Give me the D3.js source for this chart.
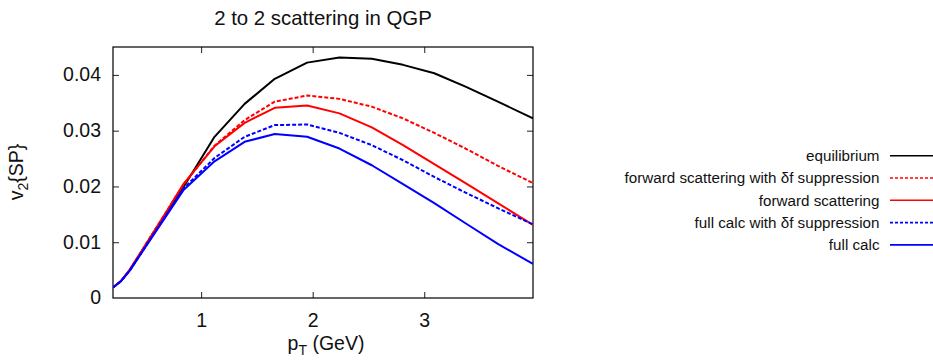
<!DOCTYPE html>
<html>
<head>
<meta charset="utf-8">
<script src="https://cdn.jsdelivr.net/npm/d3@7"></script>
<style>
  html, body { margin: 0; padding: 0; background: #fff; }
  svg { display: block; font-family: "Liberation Sans", Arial, sans-serif; }
</style>
</head>
<body>
<svg id="chart" width="933" height="362"></svg>
<script>
// ---- data ----
const pT = [0.21, 0.28, 0.36, 0.5, 0.68, 0.84, 1.12, 1.39, 1.66, 1.95, 2.24, 2.53, 2.81, 3.09, 3.37, 3.66, 3.975];
const equilibrium = [0.0019, 0.0030, 0.0050, 0.0093, 0.0149, 0.0198, 0.0289, 0.0348, 0.0393, 0.0422, 0.0431, 0.0429, 0.0418, 0.0403, 0.0379, 0.0352, 0.0322];
const forwardDf   = [0.0019, 0.0030, 0.0050, 0.0095, 0.0152, 0.0203, 0.0273, 0.0319, 0.0352, 0.0363, 0.0357, 0.0343, 0.0322, 0.0296, 0.0268, 0.0237, 0.0206];
const forward     = [0.0019, 0.0030, 0.0051, 0.0095, 0.0152, 0.0204, 0.0272, 0.0314, 0.0341, 0.0345, 0.0331, 0.0306, 0.0274, 0.0240, 0.0206, 0.0170, 0.0131];
const fullDf      = [0.0019, 0.0030, 0.0049, 0.0092, 0.0147, 0.0196, 0.0251, 0.0289, 0.0310, 0.0311, 0.0296, 0.0274, 0.0247, 0.0217, 0.0189, 0.0161, 0.0132];
const full        = [0.0019, 0.0030, 0.0049, 0.0091, 0.0145, 0.0193, 0.0245, 0.0280, 0.0294, 0.0289, 0.0268, 0.0238, 0.0204, 0.0170, 0.0134, 0.0097, 0.0061];

const seriesNames = ["equilibrium", "forward scattering with \u03B4f suppression", "forward scattering", "full calc with \u03B4f suppression", "full calc"];
const seriesValues = [equilibrium, forwardDf, forward, fullDf, full];
const seriesColors = ["#000000", "#ff0000", "#ff0000", "#0000ff", "#0000ff"];
const seriesDashed = [false, true, false, true, false];

const xTicks = [1, 2, 3];
const yTicks = [0, 0.01, 0.02, 0.03, 0.04];
const yTickLabels = ["0", "0.01", "0.02", "0.03", "0.04"];
const xDomain = [0.21, 3.975];
const yDomain = [0, 0.045];

// ---- layout ----
const svg = d3.select("#chart");
const L = 113, R = 533, T = 47, B = 298;
const x = d3.scaleLinear().domain(xDomain).range([L, R]);
const y = d3.scaleLinear().domain(yDomain).range([B, T]);
const tickLen = 6;
const fs = 19.5;

// clip
svg.append("defs").append("clipPath").attr("id", "plotclip")
  .append("rect").attr("x", L).attr("y", T).attr("width", R - L).attr("height", B - T);

// axes via d3.axis (inward ticks)
const axB = svg.append("g").attr("transform", `translate(0,${B})`)
  .call(d3.axisBottom(x).tickValues(xTicks).tickSize(-tickLen).tickPadding(0).tickFormat(d3.format("d")));
const axT = svg.append("g").attr("transform", `translate(0,${T})`)
  .call(d3.axisTop(x).tickValues(xTicks).tickSize(-tickLen).tickFormat(""));
const axL = svg.append("g").attr("transform", `translate(${L},0)`)
  .call(d3.axisLeft(y).tickValues(yTicks).tickSize(-tickLen).tickFormat((d, i) => yTickLabels[i]));
const axR = svg.append("g").attr("transform", `translate(${R},0)`)
  .call(d3.axisRight(y).tickValues(yTicks).tickSize(-tickLen).tickFormat(""));

[axB, axT, axL, axR].forEach(g => {
  g.select(".domain").remove();
  g.selectAll(".tick line").attr("stroke", "#222").attr("stroke-width", 1);
});
axB.selectAll(".tick text").attr("font-size", fs).attr("fill", "#111")
  .attr("y", 0).attr("dy", 0).attr("transform", `translate(0,${327 - B})`);
axL.selectAll(".tick text").attr("font-size", fs).attr("fill", "#111")
  .attr("x", -(L - 101)).attr("dy", "0.3em");
// remove ticks exactly at the corners (0 on y)
axL.selectAll(".tick").filter(d => d === 0).select("line").remove();
axR.selectAll(".tick").filter(d => d === 0).remove();

// border
svg.append("rect").attr("x", L).attr("y", T).attr("width", R - L).attr("height", B - T)
  .attr("fill", "none").attr("stroke", "#000").attr("stroke-width", 1.2);

// curves
const line = d3.line().x(d => x(d[0])).y(d => y(d[1]));
const plot = svg.append("g").attr("clip-path", "url(#plotclip)");
seriesValues.forEach((vals, i) => {
  plot.append("path")
    .datum(pT.map((p, j) => [p, vals[j]]))
    .attr("d", line)
    .attr("fill", "none")
    .attr("stroke", seriesColors[i])
    .attr("stroke-width", 2)
    .attr("stroke-linejoin", "round")
    .attr("stroke-dasharray", seriesDashed[i] ? "4,2" : null);
});

// title
svg.append("text").attr("x", (L + R) / 2).attr("y", 25).attr("text-anchor", "middle")
  .attr("font-size", 20.4).attr("fill", "#111").text("2 to 2 scattering in QGP");

// x label
const xl = svg.append("text").attr("x", 326).attr("y", 350).attr("text-anchor", "middle")
  .attr("font-size", fs).attr("fill", "#111");
xl.append("tspan").text("p");
xl.append("tspan").attr("font-size", 14).attr("dy", 5).text("T");
xl.append("tspan").attr("dy", -5).text(" (GeV)");

// y label
const yl = svg.append("text").attr("transform", `translate(22.5,172) rotate(-90)`)
  .attr("text-anchor", "middle").attr("font-size", fs).attr("fill", "#111");
yl.append("tspan").text("v");
yl.append("tspan").attr("font-size", 14).attr("dy", 5).text("2");
yl.append("tspan").attr("dy", -5).text("{SP}");

// legend
const legX = 879.5, legLine0 = 890, legLine1 = 940, legY0 = 155.7, legDY = 22.3;
seriesNames.forEach((name, i) => {
  const yy = legY0 + i * legDY;
  svg.append("text").attr("x", legX).attr("y", yy).attr("dy", "0.35em")
    .attr("text-anchor", "end").attr("font-size", 15.2).attr("fill", "#111").text(name);
  svg.append("line").attr("x1", legLine0).attr("x2", legLine1).attr("y1", yy).attr("y2", yy)
    .attr("stroke", seriesColors[i]).attr("stroke-width", 1.6)
    .attr("stroke-dasharray", seriesDashed[i] ? "3,2" : null);
});
</script>
</body>
</html>
